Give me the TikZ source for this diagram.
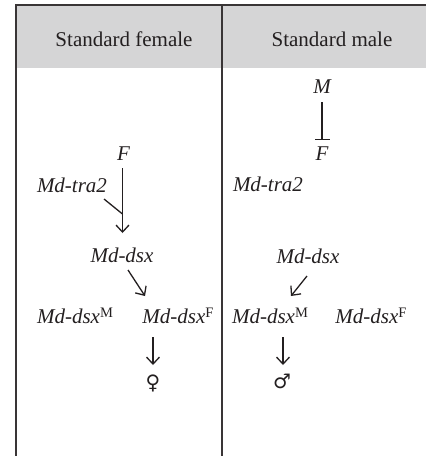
\documentclass[tikz,border=0pt]{standalone}
\usepackage{fontspec}
\setmainfont{Liberation Serif}
\newfontfamily\symfont{DejaVu Sans}
\usetikzlibrary{arrows.meta}
\definecolor{hdr}{HTML}{D5D5D6}
\definecolor{ink}{HTML}{231F20}
\tikzset{
  lbl/.style={anchor=base, inner sep=0pt, font=\fontsize{21}{25}\selectfont\itshape, text=ink},
  head/.style={anchor=base, inner sep=0pt, font=\fontsize{21}{25}\selectfont, text=ink},
  sym/.style={anchor=center, inner sep=0pt, font=\fontsize{20}{24}\symfont, text=ink},
  frame/.style={draw=ink!90, line width=1.4pt},
  conn/.style={draw=ink, line width=1.3pt},
  arr/.style={conn, -{Straight Barb[length=7pt,width=13pt,line width=1.3pt]}},
  inh/.style={conn, -{Bar[width=15pt,line width=1.5pt]}},
}
\newcommand{\dsxsup}[1]{Md-dsx\raisebox{6pt}{\fontsize{14.5}{15}\selectfont\upshape #1}}
\begin{document}
\begin{tikzpicture}[x=1pt,y=-1pt]
\useasboundingbox (0,0) rectangle (426,456);
% header
\fill[hdr] (16,5) rectangle (426,68);
\draw[frame] (16,456) -- (16,5) -- (426,5);
\draw[frame] (222,5) -- (222,456);
\node[head] (hf) at (124,46.5) {Standard female};
\node[head] (hm) at (332,46.5) {Standard male};
% female column
\node[lbl] (Fl) at (123.5,160) {F};
\node[lbl] (tral) at (72,192) {Md-tra2};
\node[lbl] (dsxl) at (122,262) {Md-dsx};
\node[lbl] (dMl) at (75,323) {\dsxsup{M}};
\node[lbl] (dFl) at (178,323) {\dsxsup{F}};
\node[sym] (fem) at (153,383) {♀};
\coordinate (jl) at (122.5,214);
\draw[arr] ([shift={(-1,8)}]Fl.base) -- ([shift={(0.5,-29)}]dsxl.base);
\draw[conn] ([shift={(32,7)}]tral.base) -- (jl);
\draw[arr] ([shift={(6,8)}]dsxl.base) -- ([shift={(-33,-27)}]dFl.base);
\draw[arr] ([shift={(-25,14)}]dFl.base) -- ([shift={(0,-18)}]fem.center);
% male column
\node[lbl] (M) at (322,93) {M};
\node[lbl] (Fr) at (322,160) {F};
\node[lbl] (trar) at (268,191) {Md-tra2};
\node[lbl] (dsxr) at (308,263) {Md-dsx};
\node[lbl] (dMr) at (270,323) {\dsxsup{M}};
\node[lbl] (dFr) at (371,323) {\dsxsup{F}};
\node[sym] (mal) at (282,381) {♂};
\draw[inh] ([shift={(0,9)}]M.base) -- ([shift={(0,-20)}]Fr.base);
\draw[arr] ([shift={(-1,13)}]dsxr.base) -- ([shift={(21,-27)}]dMr.base);
\draw[arr] ([shift={(13,14)}]dMr.base) -- ([shift={(1,-16)}]mal.center);
\end{tikzpicture}
\end{document}
